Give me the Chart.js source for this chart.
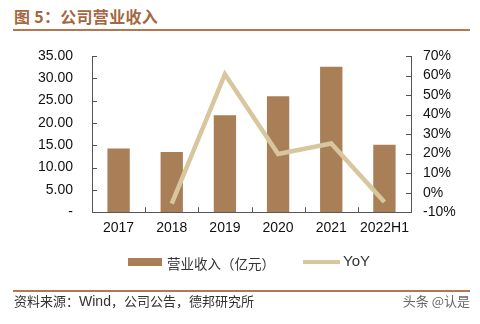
<!DOCTYPE html>
<html>
<head>
<meta charset="utf-8">
<script src="https://cdn.jsdelivr.net/npm/chart.js@4/dist/chart.umd.min.js"></script>
<style>
html,body{margin:0;padding:0;background:#fff;}
#wrap{position:relative;width:480px;height:324px;overflow:hidden;background:#fff;}
#c{position:absolute;left:0;top:0;}
.title{position:absolute;left:14px;top:4px;font:bold 16px "Noto Sans CJK SC",sans-serif;color:#A5673F;letter-spacing:0.3px;white-space:nowrap;}
.rule{position:absolute;left:13px;width:457px;height:2px;background:#B77650;}
.src{position:absolute;left:14px;top:291px;font:13px "Noto Sans CJK SC",sans-serif;color:#333;white-space:nowrap;}
.src .en{font-family:"Liberation Sans",Arial,sans-serif;font-size:14px;}
.mark{position:absolute;right:10px;top:291px;font:13px "Noto Sans CJK SC",sans-serif;color:#666;white-space:nowrap;}
.legend{position:absolute;top:253px;left:0;width:480px;height:18px;}
.sw{position:absolute;}
.lt{position:absolute;white-space:nowrap;color:#333;}
</style>
</head>
<body>
<div id="wrap">
  <div class="title">图 5：公司营业收入</div>
  <div class="rule" style="top:29px"></div>
  <canvas id="c" width="480" height="324"></canvas>
  <div class="legend">
    <div class="sw" style="left:128px;top:5px;width:34px;height:8px;background:#A87F56"></div>
    <div class="lt" style="left:167px;top:0px;font:13.5px 'Noto Sans CJK SC',sans-serif;">营业收入（亿元）</div>
    <div class="sw" style="left:303px;top:7px;width:37px;height:4px;background:#D8C79E"></div>
    <div class="lt" style="left:343px;top:-1px;font:15px 'Liberation Sans',Arial,sans-serif;">YoY</div>
  </div>
  <div class="rule" style="top:290px"></div>
  <div class="src">资料来源：<span class="en">Wind</span>，公司公告，德邦研究所</div>
  <div class="mark">头条 @认是</div>
</div>
<script>
const categories = ['2017','2018','2019','2020','2021','2022H1'];
const revenue = [14.3, 13.5, 21.7, 26.0, 32.6, 15.1];
const yoy = [null, -5.6, 60.7, 19.8, 25.2, -4.8];
const leftTicks = [0, 5, 10, 15, 20, 25, 30, 35];
const rightTicks = [-10, 0, 10, 20, 30, 40, 50, 60, 70];

const axisColor = '#555';
const tickFont = {family: "'Liberation Sans', Arial, sans-serif", size: 14};

const innerTicks = {
  id: 'innerTicks',
  afterDraw(chart) {
    const {ctx, chartArea} = chart;
    const x = chart.scales.x, y = chart.scales.y, y1 = chart.scales.y1;
    ctx.save();
    ctx.strokeStyle = axisColor;
    ctx.lineWidth = 1;
    ctx.beginPath();
    for (let i = 1; i < categories.length; i++) {
      const px = Math.round((x.getPixelForValue(i - 1) + x.getPixelForValue(i)) / 2) + 0.5;
      ctx.moveTo(px, chartArea.bottom);
      ctx.lineTo(px, chartArea.bottom - 5);
    }
    leftTicks.forEach(v => {
      const py = Math.round(y.getPixelForValue(v)) + 0.5;
      ctx.moveTo(chartArea.left, py);
      ctx.lineTo(chartArea.left + 5, py);
    });
    rightTicks.forEach(v => {
      const py = Math.round(y1.getPixelForValue(v)) + 0.5;
      ctx.moveTo(chartArea.right, py);
      ctx.lineTo(chartArea.right - 5, py);
    });
    ctx.stroke();
    ctx.restore();
  }
};

new Chart(document.getElementById('c'), {
  data: {
    labels: categories,
    datasets: [
      {
        type: 'line',
        label: 'YoY',
        data: yoy,
        yAxisID: 'y1',
        borderColor: '#D8C79E',
        borderWidth: 4.5,
        pointRadius: 0,
        tension: 0,
        borderJoinStyle: 'miter',
        spanGaps: false,
        order: 0
      },
      {
        type: 'bar',
        label: '营业收入（亿元）',
        data: revenue,
        yAxisID: 'y',
        backgroundColor: '#A87F56',
        barPercentage: 0.42,
        categoryPercentage: 1,
        order: 1
      }
    ]
  },
  options: {
    responsive: false,
    animation: false,
    events: [],
    layout: {padding: {left: 0, right: 0, top: 56, bottom: 79}},
    plugins: {legend: {display: false}, tooltip: {enabled: false}},
    scales: {
      x: {
        offset: true,
        grid: {display: false, drawOnChartArea: false, drawTicks: false},
        border: {display: true, color: axisColor, width: 1},
        ticks: {color: '#111', font: tickFont, padding: 8, maxRotation: 0, autoSkip: false}
      },
      y: {
        position: 'left',
        min: 0, max: 35,
        afterFit(s) { s.width = 92; },
        afterBuildTicks(s) { s.ticks = leftTicks.map(v => ({value: v})); },
        grid: {display: false, drawOnChartArea: false, drawTicks: false},
        border: {display: true, color: axisColor, width: 1},
        ticks: {color: '#111', font: tickFont, padding: 19, autoSkip: false,
          callback: v => v === 0 ? '-' : v.toFixed(2)}
      },
      y1: {
        position: 'right',
        min: -10, max: 70,
        afterFit(s) { s.width = 69; },
        afterBuildTicks(s) { s.ticks = rightTicks.map(v => ({value: v})); },
        grid: {display: false, drawOnChartArea: false, drawTicks: false},
        border: {display: true, color: axisColor, width: 1},
        ticks: {color: '#111', font: tickFont, padding: 12, autoSkip: false,
          callback: v => v + '%'}
      }
    }
  },
  plugins: [innerTicks]
});
</script>
</body>
</html>
